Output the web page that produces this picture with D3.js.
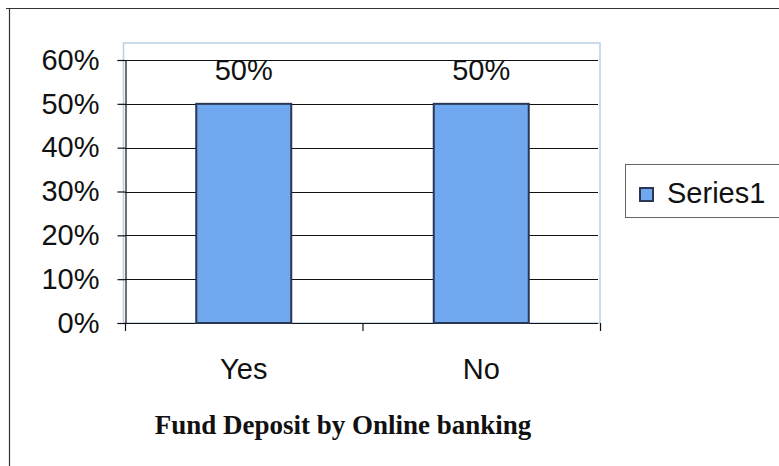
<!DOCTYPE html>
<html>
<head>
<meta charset="utf-8">
<script src="https://cdn.jsdelivr.net/npm/d3@7"></script>
<style>
  html, body { margin: 0; padding: 0; background: #fff; }
  svg { display: block; }
</style>
</head>
<body>
<svg id="chart" width="779" height="466"></svg>
<script>
// Chart data
const categories = ["Yes", "No"];
const values = [0.5, 0.5];
const yTicks = [0, 0.1, 0.2, 0.3, 0.4, 0.5, 0.6];
const seriesName = "Series1";
const chartTitle = "Fund Deposit by Online banking";

const svg = d3.select("#chart");
const sans = "Liberation Sans, Arial, sans-serif";

// Outer chart frame (top and left edges)
svg.append("line").attr("x1", 6).attr("x2", 779).attr("y1", 8.5).attr("y2", 8.5)
  .attr("stroke", "#333").attr("stroke-width", 1.2);
svg.append("line").attr("x1", 9.5).attr("x2", 9.5).attr("y1", 8).attr("y2", 466)
  .attr("stroke", "#333").attr("stroke-width", 1.2);

const plot = { left: 125, right: 600, top: 43, bottom: 323 };

const x = d3.scaleBand().domain(categories).range([plot.left, plot.right]).padding(0);
const y = d3.scaleLinear().domain([0, 0.6]).range([plot.bottom, 60]);

// Plot area border
svg.append("rect")
  .attr("x", plot.left - 1.5).attr("y", plot.top)
  .attr("width", plot.right - plot.left + 1.5).attr("height", plot.bottom - plot.top)
  .attr("fill", "none").attr("stroke", "#b9cfe6").attr("stroke-width", 1.5);

// Horizontal gridlines
svg.append("g").selectAll("line").data(yTicks).join("line")
  .attr("x1", plot.left).attr("x2", plot.right - 2)
  .attr("y1", d => Math.round(y(d)) + 0.5).attr("y2", d => Math.round(y(d)) + 0.5)
  .attr("stroke", "#111").attr("stroke-width", 1.2);

// Y axis
const yAxis = d3.axisLeft(y).tickValues(yTicks).tickFormat(d3.format(".0%")).tickSize(8).tickPadding(18);
const gy = svg.append("g").attr("transform", `translate(${plot.left + 0.5},0)`).call(yAxis);
gy.select(".domain").attr("stroke", "#111").attr("stroke-width", 1.2);
gy.selectAll(".tick line").attr("stroke", "#111").attr("stroke-width", 1.2);
gy.selectAll(".tick text")
  .attr("font-family", sans)
  .attr("font-size", 29).attr("fill", "#111");

// X axis tick marks at category boundaries
const xBounds = categories.map(c => x(c)).concat([x(categories[categories.length - 1]) + x.bandwidth()]);
svg.append("g").selectAll("line").data(xBounds).join("line")
  .attr("x1", d => d + 0.5).attr("x2", d => d + 0.5)
  .attr("y1", plot.bottom).attr("y2", plot.bottom + 8)
  .attr("stroke", "#111").attr("stroke-width", 1.2);

// Category labels
svg.append("g").selectAll("text").data(categories).join("text")
  .attr("x", d => x(d) + x.bandwidth() / 2)
  .attr("y", 379)
  .attr("text-anchor", "middle")
  .attr("font-family", sans)
  .attr("font-size", 29).attr("fill", "#111")
  .text(d => d);

// Bars
const barW = x.bandwidth() * 0.4;
svg.append("g").selectAll("rect").data(values).join("rect")
  .attr("x", (d, i) => x(categories[i]) + (x.bandwidth() - barW) / 2)
  .attr("y", d => y(d))
  .attr("width", barW)
  .attr("height", d => y(0) - y(d))
  .attr("fill", "#70a8f0")
  .attr("stroke", "#2b3652").attr("stroke-width", 2);

// Value labels
svg.append("g").selectAll("text").data(values).join("text")
  .attr("x", (d, i) => x(categories[i]) + x.bandwidth() / 2)
  .attr("y", d => y(d) - 24)
  .attr("text-anchor", "middle")
  .attr("font-family", sans)
  .attr("font-size", 29).attr("fill", "#111")
  .text(d => d3.format(".0%")(d));

// Legend
const lg = svg.append("g");
lg.append("rect").attr("x", 625.5).attr("y", 164.5).attr("width", 160).attr("height", 53)
  .attr("fill", "#fff").attr("stroke", "#666").attr("stroke-width", 1);
lg.append("rect").attr("x", 640).attr("y", 188).attr("width", 13).attr("height", 13)
  .attr("fill", "#70a8f0").attr("stroke", "#2b3652").attr("stroke-width", 2);
lg.append("text").attr("x", 667).attr("y", 203)
  .attr("font-family", sans)
  .attr("font-size", 29).attr("fill", "#111")
  .text(seriesName);

// Title
svg.append("text")
  .attr("x", 343).attr("y", 434)
  .attr("text-anchor", "middle")
  .attr("font-family", "Liberation Serif, 'Times New Roman', serif")
  .attr("font-weight", "bold")
  .attr("font-size", 27).attr("fill", "#111")
  .text(chartTitle);
</script>
</body>
</html>
